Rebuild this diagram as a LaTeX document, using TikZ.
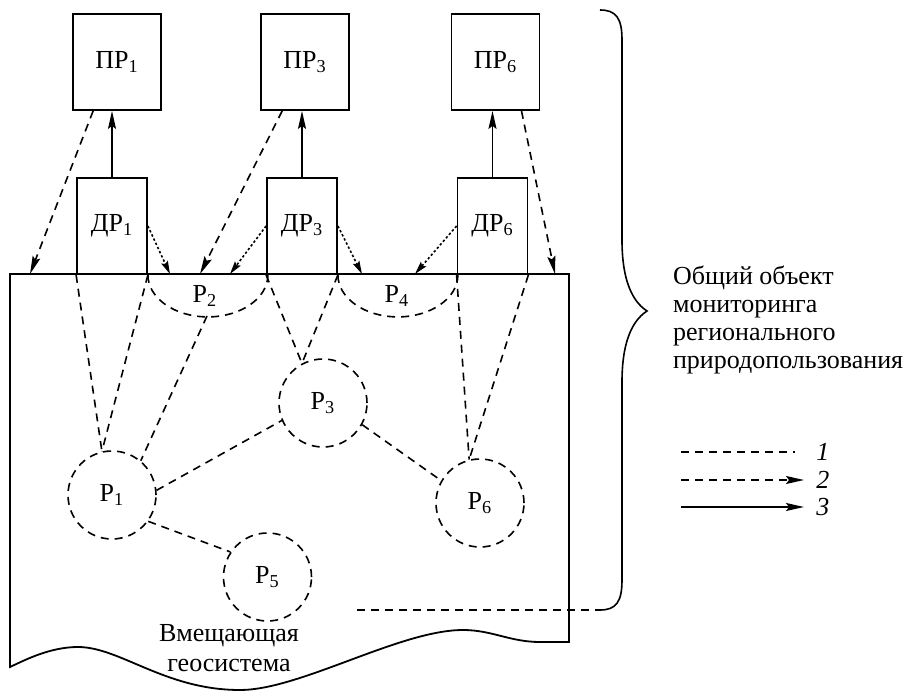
\documentclass[tikz,border=0pt]{standalone}
\usepackage{fontspec}
\setmainfont{Liberation Serif}
\usetikzlibrary{arrows.meta}

\def\plans{{(117,62)/pr1/1}, {(305,62)/pr3/3}, {(495.5,62)/pr6/6}}
\def\sensors{{(112,226)/dr1/1}, {(302,226)/dr3/3}, {(492.5,226)/dr6/6}}
\def\regions{{(112,495)/p1/1}, {(323,403)/p3/3}, {(267.5,577)/p5/5}, {(480,503)/p6/6}}
\def\baseConnect{dr1.south west/p1.103, dr1.south east/p1.103, p2b/p1.50, dr3.south west/p3.118, dr3.south east/p3.118, dr6.south west/p6.104, dr6.south east/p6.104, p1.6/p3.203, p3.331/p6.150, p1.324/p5.146}
\tikzstyle{plan}=[draw,line width=0.9pt,minimum width=44pt,minimum height=48pt,inner sep=0pt]
\tikzstyle{sensor}=[draw,line width=0.9pt,minimum width=35pt,minimum height=48pt,inner sep=0pt]
\tikzstyle{region}=[circle,draw,line width=0.8pt,dash pattern=on 4pt off 3pt,minimum size=44pt,inner sep=0pt]
\tikzstyle{link}=[draw,line width=0.8pt,dash pattern=on 4pt off 3pt]
\tikzstyle{report}=[link,-{Stealth[length=9pt,width=4pt,inset=1.5pt]}]
\tikzstyle{hint}=[draw,line width=0.8pt,dash pattern=on 1.2pt off 1.1pt,-{Stealth[length=6.5pt,width=3.5pt,inset=1pt]}]
\tikzstyle{flow}=[draw,line width=0.8pt,-{Stealth[length=9pt,width=4pt,inset=1.5pt]}]

\begin{document}
\begin{tikzpicture}[x=0.5pt,y=-0.5pt,font=\fontsize{13}{14}\selectfont]
  \useasboundingbox (0,0) rectangle (907,691);

  % The geosystem, with its torn lower edge
  \draw[line width=0.9pt] (10,274) -- (569,274) -- (569,642) -- (540,642)
    .. controls (510,642) and (492,630) .. (463,630)
    .. controls (400,630) and (300,690) .. (240,690)
    .. controls (165,690) and (120,647) .. (78,647)
    .. controls (50,647) and (25,660) .. (10,667) -- cycle;

  % Plans on top, sensors standing on the geosystem
  \foreach \pos/\name/\num in \plans
    \node[plan] (\name) at \pos {ПР\textsubscript{\num}};
  \foreach \pos/\name/\num in \sensors
    \node[sensor] (\name) at \pos {ДР\textsubscript{\num}};

  % The regions
  \foreach \pos/\name/\num in \regions
    \node[region] (\name) at \pos {Р\textsubscript{\num}};

  % Half regions under the edge
  \path[link] (dr1.south east) arc[start angle=180,end angle=0,x radius=60,y radius=42];
  \path[link] (dr3.south east) arc[start angle=180,end angle=0,x radius=60,y radius=42];
  \node (p2) at (205,296) {Р\textsubscript{2}};
  \node (p4) at (397,296) {Р\textsubscript{4}};
  \coordinate (p2b) at (207,316);

  % Points on the edge where the arrows land
  \foreach \pos/\name in {{(30,274)/t1}, {(200,274)/t2}, {(555,274)/t3}, {(170,274)/h1}, {(230,274)/h2}, {(362,274)/h3}, {(415,274)/h4}}
    \node[coordinate] (\name) at \pos {};

  % Connect everything
  \foreach \source/ \dest in \baseConnect
    \path[link] (\source) -- (\dest);

  \foreach \source/ \dest in {dr1/pr1, dr3/pr3, dr6/pr6}
    \path[flow] (\source.north) -- (\source.north |- \dest.south);

  \foreach \source/ \dest in {pr1.244/t1, pr3.245/t2, pr6.298/t3}
    \path[report] (\source) -- (\dest);

  \foreach \source/ \dest in {dr1.east/h1, dr3.west/h2, dr3.east/h3, dr6.west/h4}
    \path[hint] (\source) -- (\dest);

  % The whole object
  \node (geo) at (229,648) [align=center,font=\fontsize{13}{15}\selectfont] {Вмещающая\\геосистема};
  \node (obj) at (666,320) [anchor=west,align=left] {Общий объект\\мониторинга\\регионального\\природопользования};
  \coordinate (m1) at (357,610);
  \coordinate (b1) at (600,610);
  \path[link] (m1) -- (b1);
  \draw[line width=0.8pt] (600,10) .. controls (616,10) and (622,18) .. (622,40) -- (622,240)
    .. controls (622,290) and (638,305) .. (647,311)
    .. controls (638,317) and (622,332) .. (622,382) -- (622,580)
    .. controls (622,602) and (616,610) .. (b1);

  % Legend
  \foreach \y/\name/\num in {452/k1/1, 480/k2/2, 507/k3/3} {
    \coordinate (\name-) at (681,\y);
    \node[anchor=west,inner sep=0pt] (\name) at (816,\y) {\textit{\num}};
  }
  \coordinate (k1e) at (795,452);
  \path[link] (k1-) -- (k1e);
  \path[report] (k2-) -- ([xshift=-6pt]k2.west);
  \path[flow] (k3-) -- ([xshift=-6pt]k3.west);
\end{tikzpicture}
\end{document}
